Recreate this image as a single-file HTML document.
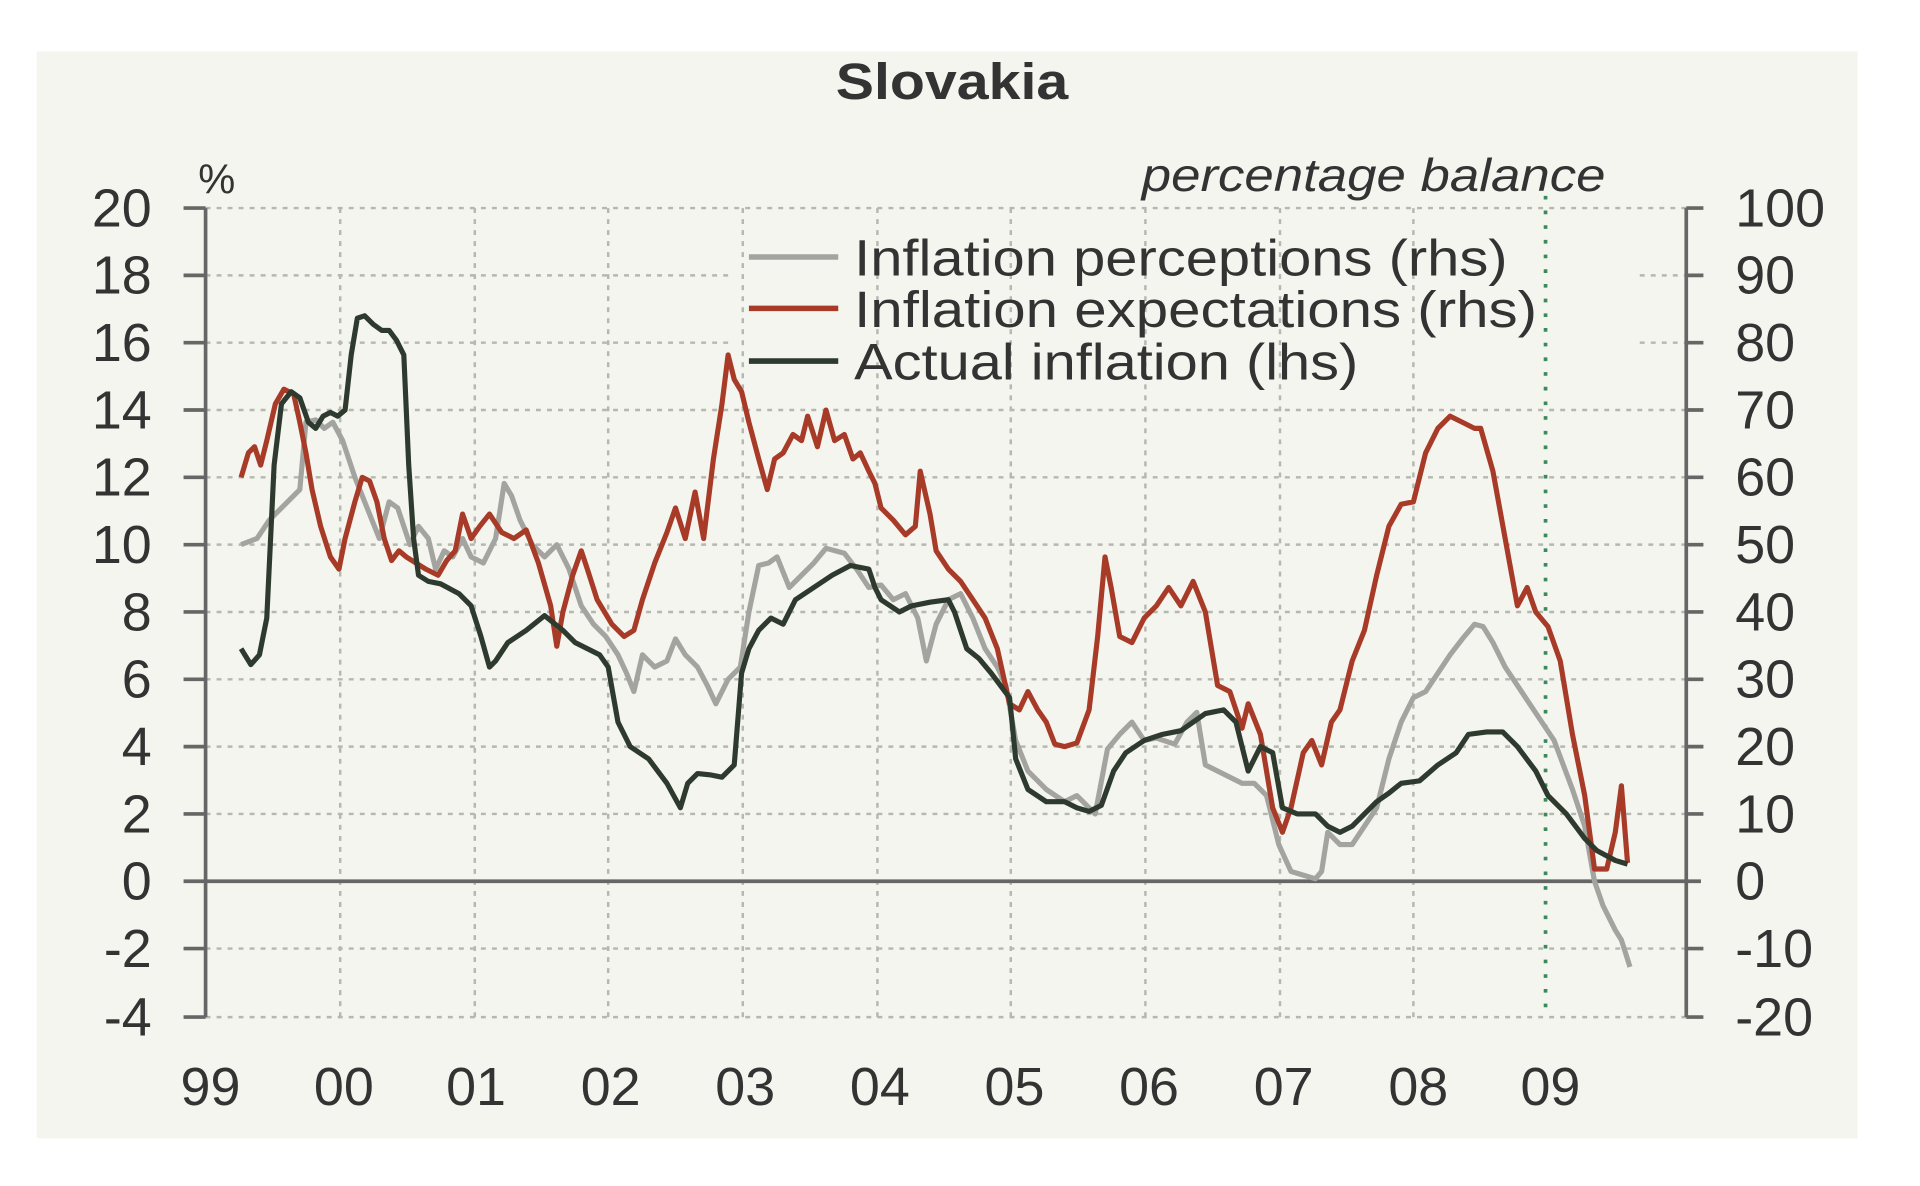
<!DOCTYPE html>
<html><head><meta charset="utf-8"><style>
html,body{margin:0;padding:0;background:#fff;}
svg{display:block;}
text{font-family:"Liberation Sans",Arial,sans-serif;fill:#333;}
</style></head><body>
<svg width="1920" height="1186" viewBox="0 0 1569 969" preserveAspectRatio="none" xmlns="http://www.w3.org/2000/svg">
<rect x="0" y="0" width="1569" height="969" fill="#fff"/>
<rect x="30" y="42" width="1488" height="888" fill="#f3f5ee"/>
<text x="683" y="81" font-size="42" font-weight="bold" textLength="190" lengthAdjust="spacingAndGlyphs" fill="#222">Slovakia</text>
<text x="162" y="158" font-size="34">%</text>
<text x="933" y="156" font-size="38" font-style="italic" textLength="379" lengthAdjust="spacingAndGlyphs">percentage balance</text>
<g stroke="#b5b8b0" stroke-width="2" stroke-dasharray="4,5" fill="none">
<line x1="168" y1="170" x2="1378" y2="170"/>
<line x1="168" y1="225" x2="600" y2="225"/><line x1="1340" y1="225" x2="1378" y2="225"/>
<line x1="168" y1="280" x2="600" y2="280"/><line x1="1340" y1="280" x2="1378" y2="280"/>
<line x1="168" y1="335" x2="1378" y2="335"/>
<line x1="168" y1="390" x2="1378" y2="390"/>
<line x1="168" y1="445" x2="1378" y2="445"/>
<line x1="168" y1="500" x2="1378" y2="500"/>
<line x1="168" y1="555" x2="1378" y2="555"/>
<line x1="168" y1="610" x2="1378" y2="610"/>
<line x1="168" y1="665" x2="1378" y2="665"/>
<line x1="168" y1="775" x2="1378" y2="775"/>
<line x1="168" y1="831" x2="1378" y2="831"/>
<line x1="278" y1="170" x2="278" y2="831"/>
<line x1="388" y1="170" x2="388" y2="831"/>
<line x1="497" y1="170" x2="497" y2="831"/>
<line x1="607" y1="170" x2="607" y2="831"/>
<line x1="717" y1="170" x2="717" y2="831"/>
<line x1="826" y1="170" x2="826" y2="831"/>
<line x1="936" y1="170" x2="936" y2="831"/>
<line x1="1046" y1="170" x2="1046" y2="831"/>
<line x1="1155" y1="170" x2="1155" y2="831"/>
</g>
<line x1="1263" y1="160" x2="1263" y2="831" stroke="#3a8a5a" stroke-width="3" stroke-dasharray="3,9"/>
<g stroke="#666" stroke-width="3" fill="none">
<line x1="168" y1="170" x2="168" y2="831"/>
<line x1="1378" y1="170" x2="1378" y2="831"/>
<line x1="150" y1="720" x2="1390" y2="720"/>
<path d="M150 170H168M150 225H168M150 280H168M150 335H168M150 390H168M150 445H168M150 500H168M150 555H168M150 610H168M150 665H168M150 775H168M150 831H168"/>
<path d="M1378 170H1392M1378 225H1392M1378 280H1392M1378 335H1392M1378 390H1392M1378 445H1392M1378 500H1392M1378 555H1392M1378 610H1392M1378 665H1392M1378 775H1392M1378 831H1392"/>
</g>
<g font-size="44" text-anchor="end">
<text x="124" y="185">20</text><text x="124" y="240">18</text><text x="124" y="295">16</text><text x="124" y="350">14</text><text x="124" y="405">12</text><text x="124" y="460">10</text><text x="124" y="515">8</text><text x="124" y="570">6</text><text x="124" y="625">4</text><text x="124" y="680">2</text><text x="124" y="735">0</text><text x="124" y="790">-2</text><text x="124" y="846">-4</text>
</g>
<g font-size="44" text-anchor="start">
<text x="1418" y="185">100</text><text x="1418" y="240">90</text><text x="1418" y="295">80</text><text x="1418" y="350">70</text><text x="1418" y="405">60</text><text x="1418" y="460">50</text><text x="1418" y="515">40</text><text x="1418" y="570">30</text><text x="1418" y="625">20</text><text x="1418" y="680">10</text><text x="1418" y="735">0</text><text x="1418" y="790">-10</text><text x="1418" y="846">-20</text>
</g>
<g font-size="44" text-anchor="middle">
<text x="172" y="903">99</text><text x="281" y="903">00</text><text x="389" y="903">01</text><text x="499" y="903">02</text><text x="609" y="903">03</text><text x="719" y="903">04</text><text x="829" y="903">05</text><text x="939" y="903">06</text><text x="1049" y="903">07</text><text x="1159" y="903">08</text><text x="1267" y="903">09</text>
</g>
<g font-size="42">
<text x="698" y="225" textLength="534" lengthAdjust="spacingAndGlyphs">Inflation perceptions (rhs)</text>
<text x="698" y="267" textLength="558" lengthAdjust="spacingAndGlyphs">Inflation expectations (rhs)</text>
<text x="698" y="310" textLength="412" lengthAdjust="spacingAndGlyphs">Actual inflation (lhs)</text>
</g>
<line x1="612" y1="210" x2="685" y2="210" stroke="#a3a3a0" stroke-width="4.5"/>
<line x1="612" y1="252" x2="685" y2="252" stroke="#a83a28" stroke-width="4.5"/>
<line x1="612" y1="295" x2="685" y2="295" stroke="#2d3a2d" stroke-width="4.5"/>
<g fill="none" stroke-width="4.2" stroke-linejoin="round">
<polyline stroke="#a3a3a0" points="197,445 210,440 220,425 235,410 245,400 250,345 258,343 265,350 272,345 280,360 290,390 300,415 310,440 318,410 325,415 335,445 342,430 350,440 356,465 363,450 370,455 378,440 385,455 395,460 405,440 412,395 418,405 425,425 435,445 445,455 455,445 465,465 475,495 485,510 495,520 505,535 512,550 518,565 525,535 535,545 545,540 552,522 560,535 570,545 578,560 585,575 595,555 605,545 612,500 620,462 628,460 635,455 645,480 655,470 665,460 675,448 690,452 700,465 710,480 720,478 730,490 740,485 750,505 757,540 765,510 775,490 785,485 795,505 805,530 815,545 822,560 830,605 840,630 855,645 870,655 880,650 895,665 905,612 915,600 925,590 935,605 945,603 960,608 970,590 978,582 985,625 995,630 1005,635 1015,640 1025,640 1035,650 1045,690 1055,712 1065,715 1075,718 1080,712 1085,680 1095,690 1105,690 1115,675 1125,660 1135,620 1145,590 1155,570 1165,565 1175,550 1185,535 1195,522 1205,510 1212,512 1220,525 1230,545 1240,560 1250,575 1260,590 1270,605 1285,645 1295,675 1303,720 1310,740 1320,760 1325,768 1332,790"/>
<polyline stroke="#a83a28" points="197,390 203,370 208,365 213,380 218,360 225,330 232,318 240,322 245,345 250,370 255,400 262,430 270,455 277,465 282,440 290,410 296,390 302,393 308,410 314,440 320,458 326,450 332,455 340,460 348,465 358,470 365,458 372,450 378,420 385,440 392,430 400,420 410,435 420,440 430,433 440,460 450,495 455,528 460,500 468,470 475,450 480,465 488,490 500,510 510,520 518,515 525,490 535,460 545,435 552,415 560,440 568,402 575,440 583,375 590,330 595,290 600,310 606,320 612,345 620,375 627,400 633,375 640,370 648,355 655,360 660,340 668,365 675,335 682,360 690,355 697,375 703,370 710,385 715,395 720,415 730,425 740,437 748,430 752,385 760,420 765,450 775,465 785,475 795,490 805,505 815,530 825,575 833,580 840,565 848,580 855,590 862,608 870,610 880,607 890,580 897,520 903,455 908,480 915,520 925,525 935,505 945,495 955,480 965,495 975,475 985,500 995,560 1005,565 1015,595 1020,575 1030,600 1040,660 1048,680 1055,660 1065,615 1072,605 1080,625 1088,590 1095,580 1105,540 1115,515 1125,470 1135,430 1145,412 1155,410 1165,370 1175,350 1185,340 1195,345 1205,350 1210,350 1220,385 1230,440 1240,495 1248,480 1255,500 1265,512 1275,540 1285,600 1295,650 1303,710 1313,710 1320,680 1325,642 1330,705"/>
<polyline stroke="#2d3a2d" points="197,530 205,543 212,535 218,505 224,380 230,330 238,320 245,325 252,345 258,350 264,340 270,337 276,340 282,335 287,290 292,260 298,258 305,265 312,270 318,270 324,278 330,290 334,380 338,440 342,470 350,475 360,477 375,485 385,495 393,520 400,545 405,540 415,525 430,515 445,503 460,515 470,525 490,535 497,545 505,590 515,610 530,620 545,640 556,660 562,640 570,632 580,633 590,635 600,625 606,550 612,530 620,515 630,505 640,510 650,490 665,480 680,470 695,462 710,465 715,480 720,490 735,500 745,495 760,492 775,490 780,500 790,530 800,538 810,550 825,570 830,620 840,645 855,655 870,655 880,660 890,663 900,658 910,630 920,615 935,605 950,600 965,597 975,590 985,583 1000,580 1010,590 1020,630 1030,610 1040,615 1048,660 1060,665 1075,665 1085,675 1095,680 1105,675 1115,665 1125,655 1135,648 1145,640 1160,638 1175,625 1190,615 1200,600 1215,598 1228,598 1240,610 1255,630 1265,650 1280,665 1295,685 1305,695 1320,703 1330,706"/>
</g>
</svg>
</body></html>
